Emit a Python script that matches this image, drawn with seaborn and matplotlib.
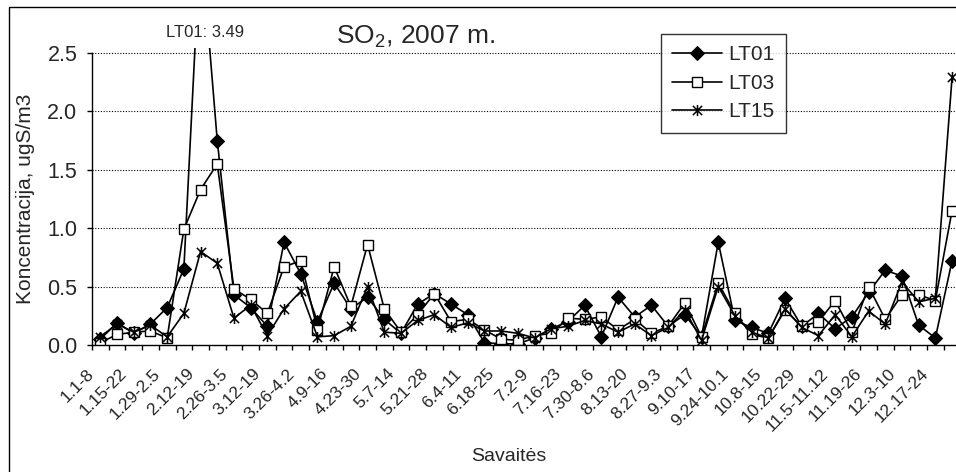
import numpy as np
import pandas as pd
import matplotlib
matplotlib.use("Agg")
import matplotlib.pyplot as plt
import seaborn as sns
from matplotlib.path import Path
from matplotlib.patches import Rectangle
from matplotlib.transforms import ScaledTranslation

# SO2 weekly concentrations, 2007 (52 weeks)
lt01 = [0.05, 0.19, 0.10, 0.18, 0.32, 0.65, 3.49, 1.75, 0.43, 0.32,
        0.16, 0.88, 0.61, 0.20, 0.53, 0.31, 0.41, 0.22, 0.10, 0.35,
        0.44, 0.35, 0.26, 0.02, 0.01, 0.01, 0.06, 0.14, 0.20, 0.34,
        0.07, 0.41, 0.24, 0.34, 0.16, 0.26, 0.07, 0.88, 0.21, 0.15,
        0.10, 0.40, 0.16, 0.27, 0.14, 0.24, 0.45, 0.64, 0.59, 0.17,
        0.06, 0.72]
lt03 = [0.02, 0.09, 0.11, 0.12, 0.06, 0.99, 1.33, 1.55, 0.48, 0.39,
        0.27, 0.67, 0.72, 0.13, 0.67, 0.33, 0.86, 0.31, 0.11, 0.26,
        0.44, 0.20, 0.22, 0.13, 0.05, 0.04, 0.08, 0.10, 0.23, 0.22,
        0.24, 0.13, 0.22, 0.10, 0.16, 0.36, 0.07, 0.53, 0.27, 0.09,
        0.06, 0.30, 0.16, 0.20, 0.38, 0.11, 0.50, 0.22, 0.43, 0.43,
        0.38, 1.15]
lt15 = [0.07, 0.18, 0.11, 0.17, 0.07, 0.27, 0.80, 0.70, 0.23, 0.34,
        0.08, 0.31, 0.46, 0.07, 0.08, 0.16, 0.50, 0.11, 0.10, 0.21,
        0.26, 0.15, 0.19, 0.12, 0.12, 0.10, 0.06, 0.14, 0.16, 0.21,
        0.18, 0.11, 0.18, 0.08, 0.15, 0.30, 0.04, 0.50, 0.25, 0.11,
        0.06, 0.31, 0.15, 0.08, 0.26, 0.07, 0.29, 0.18, 0.54, 0.37,
        0.40, 2.29]

tick_labels = ["1.1-8", "1.15-22", "1.29-2.5", "2.12-19", "2.26-3.5",
               "3.12-19", "3.26-4.2", "4.9-16", "4.23-30", "5.7-14",
               "5.21-28", "6.4-11", "6.18-25", "7.2-9", "7.16-23",
               "7.30-8.6", "8.13-20", "8.27-9.3", "9.10-17", "9.24-10.1",
               "10.8-15", "10.22-29", "11.5-11.12", "11.19-26", "12.3-10",
               "12.17-24"]

weeks = np.arange(len(lt01))
df = pd.DataFrame({"week": weeks, "LT01": lt01, "LT03": lt03, "LT15": lt15})

sns.set_style("white")
plt.rcParams["font.family"] = ["Liberation Sans", "DejaVu Sans"]
plt.rcParams["mathtext.fontset"] = "custom"
plt.rcParams["mathtext.rm"] = "Liberation Sans"

W, H = 956, 472
fig = plt.figure(figsize=(W / 100, H / 100), dpi=100)
ax = fig.add_axes([92 / W, 1 - 345 / H, 868.4 / W, 297.3 / H])

star = Path([(-1, -1), (1, 1), (-1, 1), (1, -1), (0, -1.2), (0, 1.2)],
            [Path.MOVETO, Path.LINETO] * 3)

sns.lineplot(data=df, x="week", y="LT01", ax=ax, color="black", lw=1.2,
             marker="D", ms=7, mfc="black", mec="black", label="LT01")
sns.lineplot(data=df, x="week", y="LT03", ax=ax, color="black", lw=1.2,
             marker="s", ms=7, mfc="white", mec="black", mew=1, label="LT03")
sns.lineplot(data=df, x="week", y="LT15", ax=ax, color="black", lw=1.2,
             marker=star, ms=8, mfc="none", mec="black", mew=1.1, label="LT15")

ax.set_xlim(-0.5, len(weeks) - 0.5)
ax.set_ylim(0, 2.545)
ax.set_yticks(np.arange(0, 2.51, 0.5))
ax.set_yticklabels([f"{v:.1f}" for v in np.arange(0, 2.51, 0.5)], fontsize=15.5)
for v in np.arange(0.5, 2.51, 0.5):
    ax.axhline(v, color="black", lw=0.8, ls=(0, (1, 1.5)), zorder=0)

# category boundaries as ticks, labels on every second category
ax.set_xticks(np.arange(-0.5, len(weeks), 1))
ax.set_xticklabels([])
ax.set_xticks(np.arange(0, len(weeks), 2), minor=True)
ax.set_xticklabels(tick_labels, minor=True, rotation=45, ha="right",
                   va="center", rotation_mode="anchor", fontsize=12.5)
ax.tick_params(axis="x", which="major", direction="out", length=3.5,
               width=1, color="black", bottom=True)
ax.tick_params(axis="x", which="minor", length=0, pad=19)
ax.tick_params(axis="y", direction="out", length=3.5, width=1,
               color="black", left=True, pad=7)
off = ScaledTranslation(-9 / 100, 0, fig.dpi_scale_trans)
for lab in ax.get_xticklabels(minor=True):
    lab.set_transform(lab.get_transform() + off)

for s in ["top", "right"]:
    ax.spines[s].set_visible(False)
ax.spines["left"].set_bounds(0, 2.5)
ax.spines["left"].set_color("black")
ax.spines["bottom"].set_color("black")
ax.spines["left"].set_linewidth(1)
ax.spines["bottom"].set_linewidth(1)

ax.set_ylabel("Koncentracija, ugS/m3", fontsize=15)
ax.yaxis.set_label_coords(-0.066, 0.491)
ax.set_xlabel("Savaitės", fontsize=14)
ax.xaxis.set_label_coords(0.480, -0.345)

ax.set_title(r"SO$_\mathregular{2}$, 2007 m.", fontsize=19, x=0.373,
             y=1.036, va="center", pad=0)

peak = int(np.argmax(lt01))
ax.annotate(f"LT01: {lt01[peak]:.2f}", xy=(peak, 2.5), xytext=(3, 14.5),
            textcoords="offset points", ha="center", va="center",
            fontsize=12, annotation_clip=False)

leg = ax.legend(loc="upper left", bbox_to_anchor=(661 / W, 1 - 34 / H),
                bbox_transform=fig.transFigure, fontsize=15, frameon=True,
                fancybox=False, edgecolor="black", handlelength=2.4,
                handletextpad=0.3, labelspacing=0.45, borderpad=0.55,
                borderaxespad=0)
leg.get_frame().set_linewidth(1)

# chart area border (only left and top fall inside the picture)
fig.add_artist(Rectangle((9 / W, -0.5), 1.5, 1.5 - 7 / H, fill=False,
                         ec="black", lw=1, transform=fig.transFigure))

fig.savefig("out.png", dpi=100)
